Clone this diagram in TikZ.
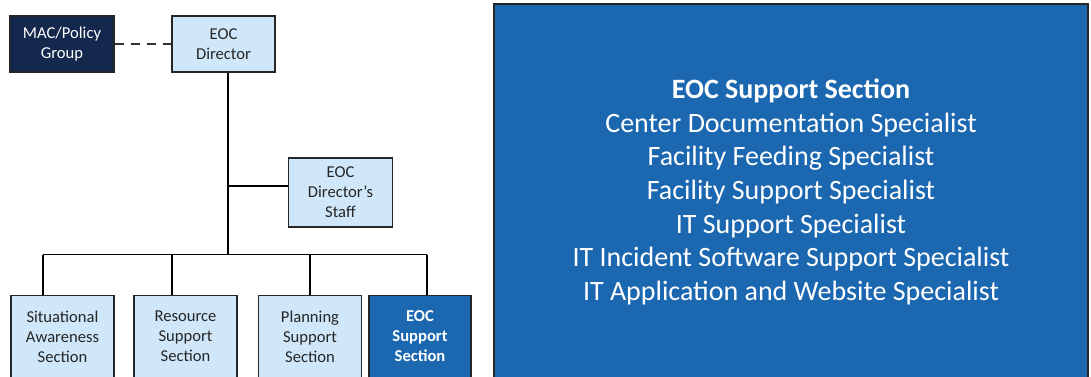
\documentclass[tikz,border=0pt]{standalone}
\usepackage{fontspec}
\setmainfont{Carlito}
\definecolor{lightbox}{HTML}{CFE7F8}
\definecolor{navybox}{HTML}{13284C}
\definecolor{secblue}{HTML}{1B67B0}
\begin{document}
\begin{tikzpicture}[x=1pt,y=-1pt,
  orgbox/.style={draw=black!85, line width=1.8pt, fill=lightbox, align=center,
    font=\fontsize{16.6}{20}\selectfont, inner sep=0pt, text=black!85},
  darkbox/.style={orgbox, fill=navybox, text=white},
  bluebox/.style={orgbox, fill=secblue, text=white, font=\fontsize{16.6}{20}\selectfont\bfseries},
  link/.style={draw=black, line width=1.8pt},
  dashlink/.style={draw=black!80, line width=1.8pt, dash pattern=on 9pt off 7pt}
]
\useasboundingbox (0,0) rectangle (1091,377);
\clip (0,0) rectangle (1091,377);
\fill[white] (0,0) rectangle (1091,377);

% top row
\node[darkbox, minimum width=104pt, minimum height=56pt] (mac) at (62,44) {MAC/Policy\\Group};
\node[orgbox, minimum width=103pt, minimum height=56pt] (dir) at (223.5,44) {EOC\\Director};
\node[orgbox, minimum width=104pt, minimum height=69pt] (staff) at (340.5,192.5) {EOC\\Director’s\\Staff};

% bottom row
\node[orgbox, minimum width=103pt, minimum height=82pt] (sit) at (62.5,336.5) {Situational\\Awareness\\Section};
\node[orgbox, minimum width=103pt, minimum height=82pt] (res) at (185.5,336.5) {Resource\\Support\\Section};
\node[orgbox, minimum width=103pt, minimum height=82pt] (plan) at (310,336.5) {Planning\\Support\\Section};
\node[bluebox, minimum width=102pt, minimum height=82pt] (eocs) at (420,336.5) {EOC\\Support\\Section};

% big detail box
\node[draw=black!85, line width=1.8pt, fill=secblue, text=white, align=center,
  minimum width=594pt, minimum height=376pt, inner sep=0pt,
  font=\fontsize{28}{33.7}\selectfont] (detail) at (791,192)
  {\textbf{EOC Support Section}\\
   Center Documentation Specialist\\
   Facility Feeding Specialist\\
   Facility Support Specialist\\
   IT Support Specialist\\
   IT Incident Software Support Specialist\\
   IT Application and Website Specialist};

% connectors
\coordinate (trunk) at (228,254.5);
\coordinate (staffjoint) at (228,186);
\coordinate (busL) at (43,254.5);
\coordinate (busR) at (426.7,254.5);
\coordinate (dropB) at (172,254.5);
\coordinate (dropC) at (310,254.5);

\draw[dashlink] (mac.east) -- (dir.west);
\draw[link] (dir.south -| trunk) -- (trunk);
\draw[link] (staffjoint) -- (staffjoint -| staff.west);
\draw[link] (busL) -- (busR);
\draw[link] (busL) -- (busL |- sit.north);
\draw[link] (dropB) -- (dropB |- res.north);
\draw[link] (dropC) -- (plan.north);
\draw[link] (busR) -- (busR |- eocs.north);
\end{tikzpicture}
\end{document}
